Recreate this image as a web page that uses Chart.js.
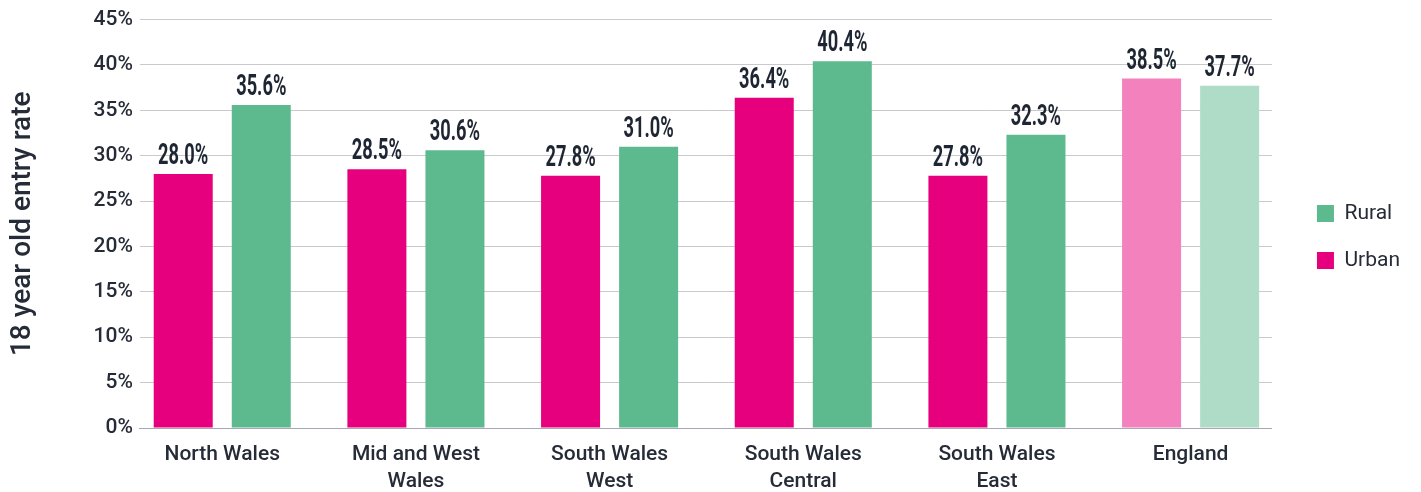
<!DOCTYPE html>
<html>
<head>
<meta charset="utf-8">
<script src="https://cdn.jsdelivr.net/npm/chart.js@4"></script>
<style>
  html, body { margin: 0; padding: 0; background: #fff; overflow: hidden; }
  #wrap { width: 1421px; height: 492px; }
</style>
</head>
<body>
<div id="wrap"><canvas id="entryChart"></canvas></div>
<script>
// ====== DATA ======
const regions = [
    ["North Wales"],
    ["Mid and West", "Wales"],
    ["South Wales", "West"],
    ["South Wales", "Central"],
    ["South Wales", "East"],
    ["England"]
];
const urbanRates = [28.0, 28.5, 27.8, 36.4, 27.8, 38.5];
const ruralRates = [35.6, 30.6, 31.0, 40.4, 32.3, 37.7];
const yTickMax = 45;
const yTickStep = 5;

const urbanColors = ['#e6007e', '#e6007e', '#e6007e', '#e6007e', '#e6007e', '#f281be'];
const ruralColors = ['#5dba8e', '#5dba8e', '#5dba8e', '#5dba8e', '#5dba8e', '#afdcc6'];
const textColor = '#252b37';

// ====== VALUE LABELS ABOVE BARS ======
const barLabels = {
    id: 'barLabels',
    afterLayout(chart) {
        // legend sits a bit above the middle in the original
        chart.legend.bottom -= 26;
    },
    afterDatasetsDraw(chart) {
        const ctx = chart.ctx;
        chart.data.datasets.forEach((ds, di) => {
            const meta = chart.getDatasetMeta(di);
            meta.data.forEach((bar, i) => {
                const txt = ds.data[i].y.toFixed(1) + '%';
                ctx.save();
                ctx.translate(bar.x, bar.y - 10);
                ctx.scale(0.63, 1);
                ctx.font = 'bold 29px Roboto';
                ctx.fillStyle = '#1f2633';
                ctx.textAlign = 'center';
                ctx.textBaseline = 'alphabetic';
                ctx.fillText(txt, 0, 0);
                ctx.restore();
            });
        });
    }
};

const ctx = document.getElementById('entryChart').getContext('2d');
let chart = new Chart(ctx, {
    type: 'bar',
    data: {
        datasets: [{
            label: 'Urban',
            data: urbanRates.map((v, i) => ({ x: i, y: v })),
            backgroundColor: urbanColors
        }, {
            label: 'Rural',
            data: ruralRates.map((v, i) => ({ x: i, y: v })),
            backgroundColor: ruralColors
        }]
    },
    options: {
        responsive: true,
        maintainAspectRatio: false,
        animation: false,
        categoryPercentage: 0.806,
        barPercentage: 0.756,
        layout: { padding: { left: 6, right: 11, top: 8, bottom: 0 } },
        plugins: {
            tooltip: { enabled: false },
            legend: {
                position: 'right',
                reverse: true,
                labels: {
                    boxWidth: 17,
                    boxHeight: 17,
                    padding: 26,
                    color: textColor,
                    font: { family: 'Roboto', size: 21 }
                }
            }
        },
        scales: {
            x: {
                type: 'linear',
                offset: false,
                min: -0.425,
                max: 5.42,
                grid: { display: false, drawTicks: false },
                border: { color: '#a8a6b2', width: 1 },
                afterBuildTicks: scale => {
                    scale.ticks = regions.map((r, i) => ({ value: i }));
                },
                afterFit: scale => { scale.height = 64; },
                ticks: {
                    autoSkip: false,
                    maxRotation: 0,
                    padding: 14,
                    color: textColor,
                    font: { family: 'Roboto', size: 21, weight: '500', lineHeight: 1.25 },
                    callback: v => regions[v]
                }
            },
            y: {
                min: 0,
                max: yTickMax,
                grid: { color: '#c9c9ce', lineWidth: 1, drawTicks: false },
                border: { display: false },
                ticks: {
                    stepSize: yTickStep,
                    padding: 7,
                    color: textColor,
                    font: { family: 'Roboto', size: 21, weight: '500' },
                    callback: v => v + '%'
                },
                title: {
                    display: true,
                    text: '18 year old entry rate',
                    color: textColor,
                    padding: { top: 0, bottom: 47 },
                    font: { family: 'Roboto', size: 28, weight: '500' }
                }
            },
            gap: {
                position: 'right',
                grid: { display: false },
                border: { display: false },
                ticks: { display: false },
                afterFit: scale => { scale.width = 19; }
            }
        }
    },
    plugins: [barLabels]
});
</script>
</body>
</html>
